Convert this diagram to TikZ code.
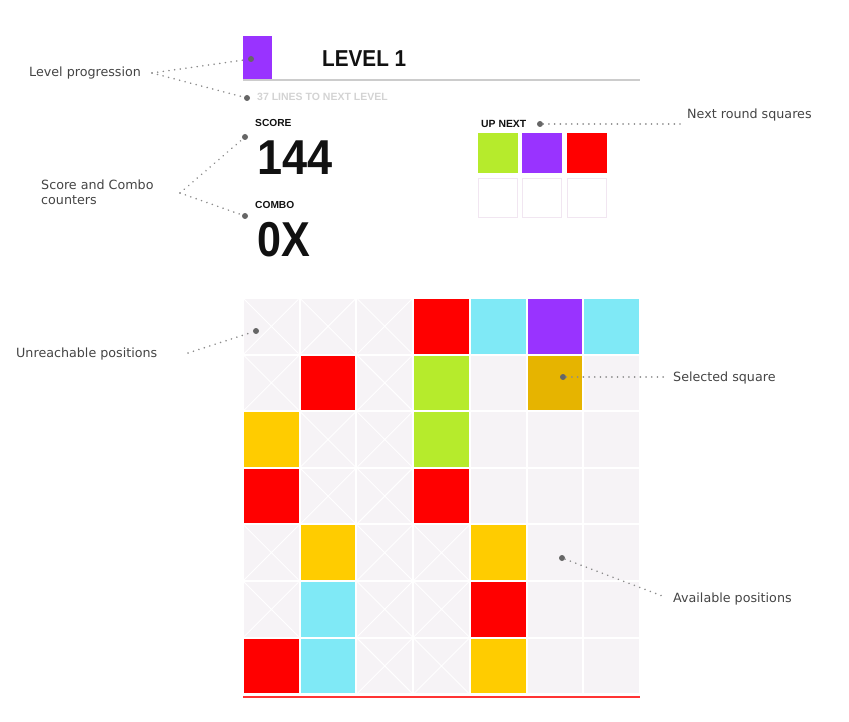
\documentclass[tikz,border=0pt]{standalone}
\usepackage{fontspec}
\setmainfont{Liberation Sans}
\newfontfamily\annotfont{DejaVu Sans}
\definecolor{cellbg}{HTML}{F6F3F6}
\definecolor{cred}{HTML}{FF0000}
\definecolor{ccyan}{HTML}{7FE9F6}
\definecolor{cpurple}{HTML}{9933FF}
\definecolor{cgreen}{HTML}{B6EB2C}
\definecolor{cyellow}{HTML}{FFCC00}
\definecolor{csel}{HTML}{E6B400}
\definecolor{annot}{HTML}{444444}
\definecolor{dotline}{HTML}{8C8C8C}
\definecolor{dotfill}{HTML}{666666}
\definecolor{rulegrey}{HTML}{CCCCCC}
\definecolor{faint}{HTML}{D3D3D3}
\definecolor{emptyborder}{HTML}{F1E6F1}
\definecolor{uitext}{HTML}{111111}
\begin{document}
\begin{tikzpicture}[x=1pt,y=-1pt,
  cell/.style={rectangle, inner sep=0, minimum size=54.7pt, draw=none},
  cellE/.style={cell, fill=cellbg},
  cellX/.style={cell, fill=cellbg, path picture={
     \draw[white,line width=0.9pt]
       (path picture bounding box.north west) -- (path picture bounding box.south east)
       (path picture bounding box.north east) -- (path picture bounding box.south west);}},
  cellR/.style={cell, fill=cred},
  cellC/.style={cell, fill=ccyan},
  cellP/.style={cell, fill=cpurple},
  cellG/.style={cell, fill=cgreen},
  cellY/.style={cell, fill=cyellow},
  cellS/.style={cell, fill=csel},
  nextbox/.style={rectangle, inner sep=0, minimum size=40pt},
  nextempty/.style={nextbox, draw=emptyborder, line width=1pt, minimum size=39pt},
  pin/.style={circle, fill=dotfill, inner sep=0, minimum size=6pt},
  conn/.style={draw=dotline, line width=1.7pt, line cap=round, dash pattern=on 0.1pt off 5.6pt},
  annotlbl/.style={anchor=base west, inner sep=0, text=annot, font=\annotfont\fontsize{12.7}{15}\selectfont},
  uilbl/.style={anchor=base west, inner sep=0, text=uitext}
]
\useasboundingbox (0,0) rectangle (849,722);

% level header
\node[rectangle, fill=cpurple, inner sep=0, minimum width=29pt, minimum height=44pt, anchor=north west] (lvlsq) at (243,36) {};
\draw[rulegrey, line width=1.5pt] (243,80) -- (640,80);
\node[uilbl] (lvl) at (322,67) {\scalebox{0.9}[1]{\fontsize{23}{23}\selectfont\bfseries LEVEL 1}};
\node[uilbl, text=faint] (lines) at (257,101) {\fontsize{10.5}{12}\selectfont\bfseries 37 LINES TO NEXT LEVEL};

% score and combo
\node[uilbl] (scorelbl) at (255,127) {\fontsize{10.2}{12}\selectfont\bfseries SCORE};
\node[uilbl] (score) at (257,175) {\scalebox{0.92}[1]{\fontsize{49}{49}\selectfont\bfseries 144}};
\node[uilbl] (combolbl) at (255,209) {\fontsize{10.2}{12}\selectfont\bfseries COMBO};
\node[uilbl] (combo) at (257,257) {\scalebox{0.88}[1]{\fontsize{49}{49}\selectfont\bfseries 0X}};

% up next
\node[uilbl] (uplbl) at (481,128) {\fontsize{10.4}{12}\selectfont\bfseries UP NEXT};
\node[nextbox, fill=cgreen] (n1) at (497.5,153.5) {};
\node[nextbox, fill=cpurple] (n2) at (542,153.5) {};
\node[nextbox, fill=cred] (n3) at (586.5,153.5) {};
\node[nextempty] (m1) at (497.5,198) {};
\node[nextempty] (m2) at (542,198) {};
\node[nextempty] (m3) at (586.5,198) {};

% grid
\foreach \row [count=\j from 0] in {{X,X,X,R,C,P,C},{X,R,X,G,E,S,E},{Y,X,X,G,E,E,E},{R,X,X,R,E,E,E},{X,Y,X,X,Y,E,E},{X,C,X,X,R,E,E},{R,C,X,X,Y,E,E}}{
  \foreach \t [count=\i from 0] in \row {
    \node[cell\t] (c-\i-\j) at ({243+(\i+0.5)*56.71},{298+(\j+0.5)*56.6}) {};
  }
}
\draw[cred!80!white, line width=2.5pt] (243,697) -- (640,697);

% pins
\node[pin] (p-lvl) at (251,59) {};
\node[pin] (p-lines) at (247,98) {};
\node[pin] (p-score) at (245,137) {};
\node[pin] (p-combo) at (245,216) {};
\node[pin] (p-next) at (540,124) {};
\node[pin] (p-unreach) at (256,331) {};
\node[pin] (p-sel) at (563,377) {};
\node[pin] (p-avail) at (562,558) {};

% annotation labels
\node[annotlbl] (a-level) at (29,77) {Level progression};
\node[annotlbl] (a-score1) at (41,190) {Score and Combo};
\node[annotlbl] (a-score2) at (41,205) {counters};
\node[annotlbl] (a-unreach) at (16,357) {Unreachable positions};
\node[annotlbl] (a-sel) at (673,381) {Selected square};
\node[annotlbl] (a-avail) at (673,602) {Available positions};
\node[annotlbl] (a-next) at (687,119) {Next round squares};

% connector free ends
\coordinate (e-level) at (152,73);
\coordinate (e-score) at (180,193);
\coordinate (e-unreach) at (188,353);
\coordinate (e-sel) at (665,377);
\coordinate (e-avail) at (665,597);
\coordinate (e-next) at (680,124);

% connectors
\draw[conn] (e-level) -- (p-lvl);
\draw[conn] (e-level) -- (p-lines);
\draw[conn] (e-score) -- (p-score);
\draw[conn] (e-score) -- (p-combo);
\draw[conn] (e-unreach) -- (p-unreach);
\draw[conn] (p-sel) -- (e-sel);
\draw[conn] (p-avail) -- (e-avail);
\draw[conn] (p-next) -- (e-next);
\end{tikzpicture}
\end{document}
